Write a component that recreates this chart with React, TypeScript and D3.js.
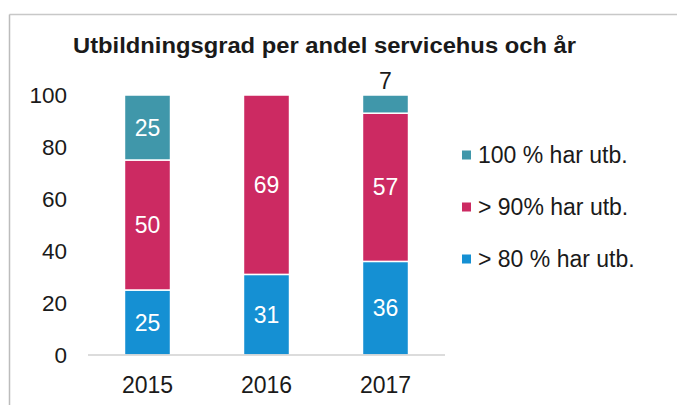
import React from 'react';
import * as d3 from 'd3';

const title = 'Utbildningsgrad per andel servicehus och år';
const years = ['2015', '2016', '2017'];
const seriesNames = ['> 80 % har utb.', '> 90% har utb.', '100 % har utb.'];
const over80 = [25, 31, 36];
const over90 = [50, 69, 57];
const full100 = [25, 0, 7];
const yTicks = [0, 20, 40, 60, 80, 100];
const colors = ['#1590d3', '#cc2a62', '#4097aa'];

const FONT = '"Liberation Sans", Arial, sans-serif';

export default function App() {
  const x = d3.scaleBand<string>().domain(years).range([88, 445]).paddingInner(0.613).paddingOuter(0.3065);
  const y = d3.scaleLinear().domain([0, 100]).range([355, 95]);
  const table = years.map((yr, i) => ({ year: yr, s0: over80[i], s1: over90[i], s2: full100[i] }));
  const stacked = d3.stack<any>().keys(['s0', 's1', 's2'])(table);

  const legendOrder = [2, 1, 0];

  return (
    <svg width={677} height={405} style={{ position: 'absolute', left: 0, top: 0, background: '#fff' }}>
      <rect x={0} y={0} width={677} height={405} fill="#fff" />
      {/* frame */}
      <line x1={9.5} y1={14.5} x2={677} y2={14.5} stroke="#c8c8c8" strokeWidth={1.5} />
      <line x1={9.5} y1={14.5} x2={9.5} y2={405} stroke="#bcbcbc" strokeWidth={1.5} />
      {/* title */}
      <text x={73} y={53} fontFamily={FONT} fontWeight="bold" fontSize={22.5} fill="#1a1a1a" textLength={503} lengthAdjust="spacingAndGlyphs">
        {title}
      </text>
      {/* y tick labels */}
      {yTicks.map((t) => (
        <text key={t} x={67} y={y(t) + 8} textAnchor="end" fontFamily={FONT} fontSize={22.5} fill="#1a1a1a">
          {t}
        </text>
      ))}
      {/* bars */}
      {stacked.map((layer, si) =>
        layer.map((d, i) => {
          const h = y(d[0]) - y(d[1]);
          if (h <= 0) return null;
          return (
            <rect
              key={`${si}-${i}`}
              x={x(years[i])!}
              y={y(d[1])}
              width={x.bandwidth()}
              height={h}
              fill={colors[si]}
              stroke="#fff"
              strokeWidth={1.5}
            />
          );
        })
      )}
      {/* value labels */}
      {stacked.map((layer, si) =>
        layer.map((d, i) => {
          const v = d[1] - d[0];
          if (v <= 0) return null;
          const cx = x(years[i])! + x.bandwidth() / 2;
          const small = v < 10;
          const cy = small ? y(d[1]) - 6 : (y(d[0]) + y(d[1])) / 2 + 8;
          return (
            <text key={`l${si}-${i}`} x={cx} y={cy} textAnchor="middle" fontFamily={FONT} fontSize={23} fill={small ? '#1a1a1a' : '#fff'}>
              {v}
            </text>
          );
        })
      )}
      {/* axis line */}
      <line x1={88} x2={445} y1={y(0)} y2={y(0)} stroke="#d0d0d0" strokeWidth={1.5} />
      {/* x labels */}
      {years.map((yr) => (
        <text key={yr} x={x(yr)! + x.bandwidth() / 2} y={393} textAnchor="middle" fontFamily={FONT} fontSize={23} fill="#1a1a1a">
          {yr}
        </text>
      ))}
      {/* legend */}
      {legendOrder.map((si, k) => {
        const cy = 155 + k * 52;
        return (
          <g key={si}>
            <rect x={462} y={cy - 4.5} width={9} height={9} fill={colors[si]} />
            <text x={478} y={cy + 8} fontFamily={FONT} fontSize={23} fill="#1a1a1a">
              {seriesNames[si]}
            </text>
          </g>
        );
      })}
    </svg>
  );
}
